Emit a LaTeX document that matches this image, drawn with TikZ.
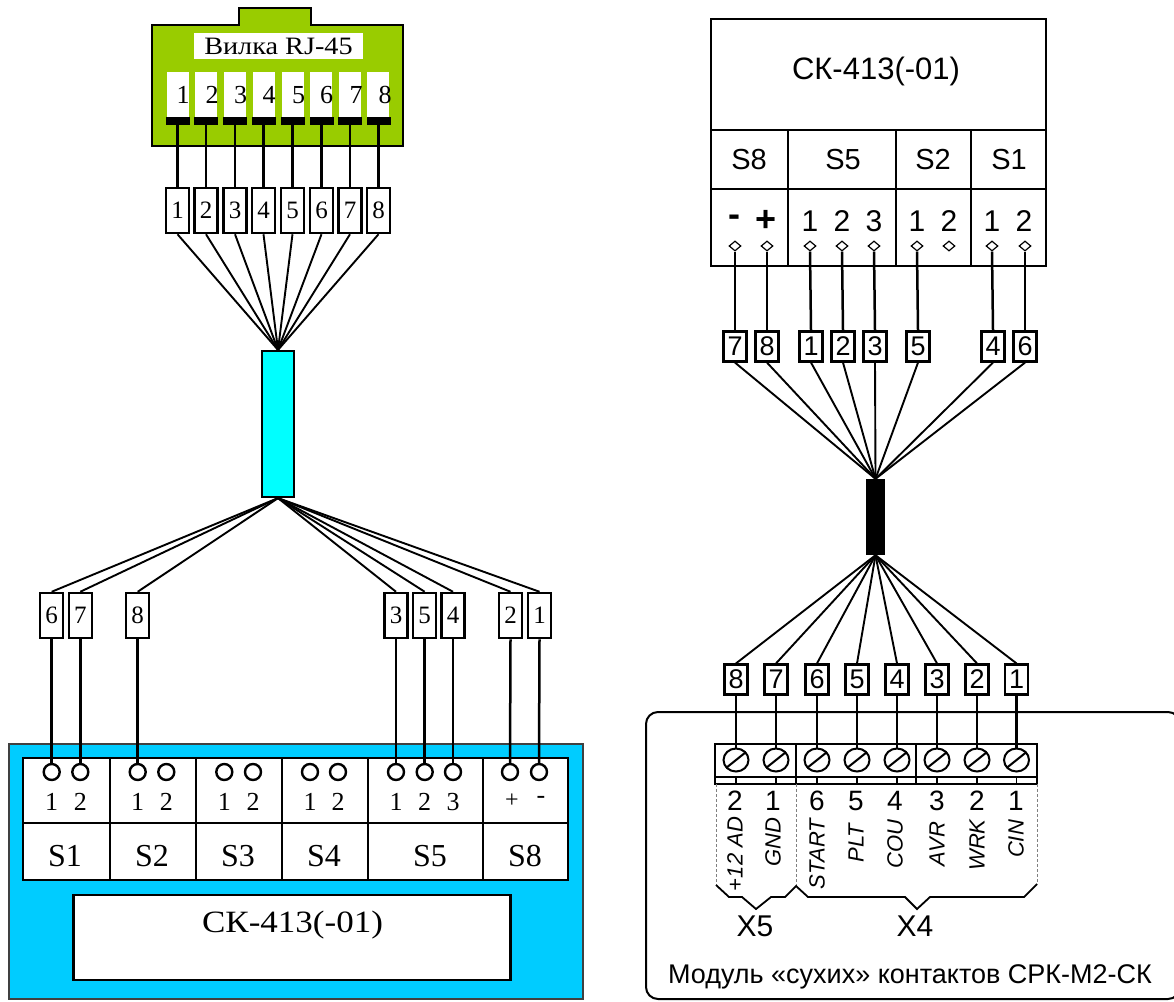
\documentclass[tikz,border=0pt]{standalone}
\usepackage{graphicx}
\usepackage{fontspec}
\setmainfont{Liberation Serif}
\setsansfont{Liberation Sans}
\definecolor{rjgreen}{HTML}{99CC00}
\definecolor{panelblue}{HTML}{00CCFF}
\definecolor{bar}{HTML}{00FFFF}
\newcommand{\fs}[1]{\fontsize{#1}{#1}\selectfont}
\usetikzlibrary{shapes.geometric}
\tikzset{
  x=1pt,y=-1pt,
  wire/.style={line width=2.5pt,draw=black},
  fan/.style={line width=1.9pt,draw=black},
  box/.style={draw=black,line width=2.4pt},
  lbl/.style={inner sep=0pt,anchor=center},
  tagL/.style={draw=black,fill=white,line width=2.5pt,minimum width=23pt,minimum height=45pt,inner sep=0pt,font=\fs{25}},
  tagR/.style={draw=black,fill=white,line width=2.2pt,minimum width=23pt,minimum height=30pt,inner sep=0pt,font=\sffamily\fs{27}},
  ring/.style={circle,draw=black,fill=none,line width=2.4pt,minimum size=16pt,inner sep=0pt},
  pinbar/.style={fill=black,minimum width=24pt,minimum height=8pt,inner sep=0pt},
  dia/.style={diamond,draw=black,fill=white,line width=1.2pt,minimum width=12pt,minimum height=10pt,inner sep=0pt},
  screw/.style={ellipse,draw=black,line width=2pt,minimum width=25pt,minimum height=23pt,inner sep=0pt},
  vlbl/.style={rotate=90,inner sep=0pt,font=\sffamily\itshape\fs{22}},
  dsh/.style={draw=black!50,line width=1pt,dash pattern=on 3pt off 2pt},
  brk/.style={draw=black,line width=1.8pt},
}
\begin{document}
\begin{tikzpicture}
\useasboundingbox (0,0) rectangle (1174,1001);
\clip (0,0) rectangle (1174,1001);
% ===== RJ-45 =====
\draw[box,fill=rjgreen] (152,25) -- (239,25) -- (239,8) -- (311,8) -- (311,25) -- (403,25) -- (403,146) -- (152,146) -- cycle;
\node[fill=white,minimum width=169pt,minimum height=26pt,inner sep=0pt,font=\fs{25}] (plug) at (278.5,46) {\scalebox{1.13}[1]{Вилка RJ-45}};
\foreach \i/\x/\wx/\tx/\lx in {1/177.5/178/183/177.5,2/206/206/212/206,3/235/235/240.6/235,4/263.5/264/269/263.7,5/292.5/293/298.7/292.7,6/321.5/321/326.7/321.7,7/350/350/356/350.3,8/378.5/378/385/378.7}{
  \fill[white] (\wx-11,72) rectangle (\wx+11,118);
  \node[lbl,font=\fs{26}] (pn\i) at (\tx,95) {\i};
  \node[pinbar] (pin\i) at (\x,121) {};
  \node[tagL] (a\i) at (\x,210.5) {\i};
  \draw[wire] (pin\i.south) -- (a\i.north);
}
% ===== cyan cable =====
\node[draw=black,line width=2.2pt,fill=bar,minimum width=32pt,minimum height=146pt,inner sep=0pt] (cableL) at (278,424) {};
\foreach \i in {1,...,8}{ \draw[fan] (a\i.south) -- (cableL.north); }
% ===== left panel =====
\draw[draw=black!75,line width=2.4pt,fill=panelblue] (9,744) rectangle (583,999);
\draw[box,fill=white] (23,758) rectangle (568,880);
\draw[box] (23,823) -- (568,823);
\foreach \x in {109.7,195.7,282,368,482.7}{ \draw[box] (\x,758) -- (\x,880); }
\node[draw=black,line width=2.4pt,fill=white,minimum width=437pt,minimum height=85pt,inner sep=0pt] (dev) at (292,937.5) {};
\node[lbl,font=\fs{31}] (devt) at (292.5,925) {\scalebox{1.13}[1]{СК-413(-01)}};
\foreach \n/\x in {S1/65,S2/152,S3/238,S4/324,S5/430,S8/525}{ \node[lbl,font=\fs{32}] (n\n) at (\x,856) {\n}; }
\foreach \n/\x/\t in {c1/51.7/1,c2/80.3/2,c3/137.7/1,c4/166.3/2,c5/224.3/1,c6/253/2,c7/310/1,c8/338/2,c9/396/1,c10/424.7/2,c11/453/3}{
  \node[ring] (\n) at (\x,772) {};
  \node[lbl,font=\fs{26}] (\n t) at (\x,802) {\t};
}
\node[ring] (c12) at (510,772) {};
\node[ring] (c13) at (539,772) {};
\node[lbl,font=\fs{24}] (c12t) at (512,801) {+};
\node[lbl,font=\fs{26}] (c13t) at (541,800) {-};
\foreach \i/\x/\c in {6/51.7/c1,7/80.3/c2,8/137.7/c3,3/396/c9,5/424.7/c10,4/453/c11,2/510.5/c12,1/539.5/c13}{
  \node[tagL] (b\i) at (\x,615.5) {\i};
  \draw[wire] (b\i.south) -- (\c.north);
  \draw[fan] (cableL.south) -- (b\i.north);
}
% ===== right device =====
\draw[box,fill=white] (711,19) rectangle (1046,266);
\draw[box] (711,130) -- (1046,130);
\draw[box] (711,189) -- (1046,189);
\foreach \x in {788,896,971}{ \draw[box] (\x,130) -- (\x,266); }
\node[lbl,font=\sffamily\fs{31}] (rt) at (876,71) {СК-413(-01)};
\foreach \n/\x in {S8/749,S5/843,S2/933,S1/1009}{ \node[lbl,font=\sffamily\fs{29}] (r\n) at (\x,160) {\n}; }
\node[lbl,font=\sffamily\bfseries\fs{36}] (rm) at (734,220.5) {-};
\node[lbl,font=\sffamily\bfseries\fs{36}] (rp) at (766,221) {+};
\foreach \n/\x/\t in {d3/810/1,d4/842/2,d5/874/3,d6/917/1,d7/949/2,d8/992/1,d9/1024/2}{
  \node[lbl,font=\sffamily\fs{30}] (\n t) at (\x,221) {\t};
}
\foreach \n/\x in {d1/735,d2/767,d3/810,d4/842,d5/874,d6/917,d7/949,d8/992,d9/1025}{
  \node[dia] (\n) at (\x,246) {};
}
\foreach \l/\x/\d in {7/735/d1,8/767/d2,1/811/d3,2/843/d4,3/875/d5,5/918/d6,4/993/d8,6/1025/d9}{
  \node[tagR] (e\l) at (\x,346.5) {\l};
  \draw[wire] (\d.south) -- (e\l.north);
}
% ===== black cable =====
\node[fill=black,minimum width=19pt,minimum height=76pt,inner sep=0pt] (cableR) at (875.5,517) {};
\foreach \i in {1,...,8}{ \draw[fan] (e\i.south) -- (cableR.north); }
% ===== module =====
\draw[draw=black,line width=2pt,rounded corners=12pt] (646,712) rectangle (1180,999);
\node[lbl,font=\sffamily\fs{27}] (modt) at (910,977) {Модуль «сухих» контактов СРК-М2-СК};
\draw[box] (715,744) rectangle (1037,784);
\draw[box] (715,777) -- (1037,777);
\foreach \x in {796,916}{ \draw[box] (\x,744) -- (\x,784); }
\foreach \i/\x in {8/736,7/776,6/817,5/857,4/897,3/937,2/977,1/1016.5}{
  \node[screw] (s\i) at (\x,760) {};
  \draw[line width=2pt] (\x-10,768) -- (\x+10,752);
  \draw[line width=1.2pt] (\x,777) -- (\x,784);
  \node[tagR] (f\i) at (\x,679.5) {\i};
  \draw[wire] (f\i.south) -- (s\i.north);
  \draw[fan] (cableR.south) -- (f\i.north);
}
\foreach \t/\x in {2/735,1/773,6/817,5/856,4/895,3/937,2/977,1/1016}{
  \node[lbl,font=\sffamily\fs{28}] at (\x,801) {\t};
}
\node[vlbl] (v1) at (735,854) {+12 AD};
\node[vlbl] (v2) at (773,842) {GND};
\node[vlbl] (v3) at (817,854) {START};
\node[vlbl] (v4) at (856,843) {PLT};
\node[vlbl] (v5) at (895,844) {COU};
\node[vlbl] (v6) at (937,844) {AVR};
\node[vlbl] (v7) at (977,845) {WRK};
\node[vlbl] (v8) at (1016,839) {CIN};
\draw[dsh] (716,784) -- (716,885);
\draw[dsh] (796,784) -- (796,886);
\draw[dsh] (1037,784) -- (1037,884);
\draw[brk] (716,885) -- (729,897) -- (742,897) -- (756,909) -- (771,897) -- (785,897) -- (796,886) -- (808,897) -- (905,897) -- (917,909) -- (930,897) -- (1024,897) -- (1037,884);
\node[lbl,font=\sffamily\fs{30}] (x5) at (755,926) {X5};
\node[lbl,font=\sffamily\fs{30}] (x4) at (915,926) {X4};
\end{tikzpicture}
\end{document}
